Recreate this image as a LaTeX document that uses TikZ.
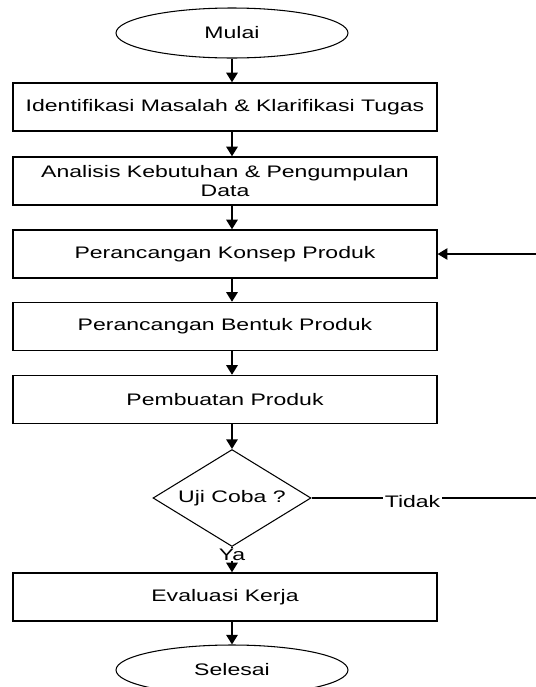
\documentclass[tikz,border=0pt]{standalone}
\usepackage{fontspec}
\setmainfont[FakeStretch=1.38]{Liberation Sans}
\usetikzlibrary{shapes.geometric,arrows.meta}
\begin{document}
\begin{tikzpicture}[x=0.02cm,y=-0.02cm,
  txt/.style={font=\fontsize{9.5}{11}\selectfont},
  box/.style={txt,draw,line width=0.8pt,minimum width=8.48cm,minimum height=0.96cm,align=center,inner sep=0pt},
  ujung/.style={txt,draw,line width=0.6pt,ellipse,minimum width=4.64cm,minimum height=1cm,inner sep=0pt},
  arr/.style={line width=1pt,-{Triangle[width=6.5pt,length=5.5pt]}}]
\useasboundingbox (0,0) rectangle (536,687);
\node[ujung] (mulai) at (232,33) {Mulai};
\node[box] (identifikasi) at (225,107) {Identifikasi Masalah \& Klarifikasi Tugas};
\node[box] (analisis) at (225,181) {Analisis Kebutuhan \& Pengumpulan\\Data};
\node[box] (konsep) at (225,254) {Perancangan Konsep Produk};
\node[box] (bentuk) at (225,326.5) {Perancangan Bentuk Produk};
\node[box] (pembuatan) at (225,399.5) {Pembuatan Produk};
\node[txt,draw,line width=0.6pt,diamond,aspect=1.63,minimum width=3.16cm,minimum height=1.94cm,inner sep=0pt] (uji) at (232,498) {Uji Coba ?};
\node[box] (evaluasi) at (225,597) {Evaluasi Kerja};
\node[ujung] (selesai) at (232,670) {Selesai};
\coordinate (balik1) at (536,254);
\coordinate (balik2) at (536,498);
\draw[arr] (mulai.south) -- (mulai.south |- identifikasi.north);
\draw[arr] (mulai.south |- identifikasi.south) -- (mulai.south |- analisis.north);
\draw[arr] (mulai.south |- analisis.south) -- (mulai.south |- konsep.north);
\draw[arr] (mulai.south |- konsep.south) -- (mulai.south |- bentuk.north);
\draw[arr] (mulai.south |- bentuk.south) -- (mulai.south |- pembuatan.north);
\draw[arr] (mulai.south |- pembuatan.south) -- (uji.north);
\draw[arr] (uji.south) -- node[txt,fill=white,inner sep=0.5pt,pos=0.3]{Ya} (uji.south |- evaluasi.north);
\draw[arr] (mulai.south |- evaluasi.south) -- (selesai.north);
\draw[line width=0.6pt] (uji.east) -- node[txt,fill=white,inner sep=1pt,pos=0.45,yshift=-2pt]{Tidak} (balik2);
\draw[line width=0.6pt,-{Triangle[width=6.5pt,length=5.5pt]}] (balik1) -- (konsep.east);
\end{tikzpicture}
\end{document}
